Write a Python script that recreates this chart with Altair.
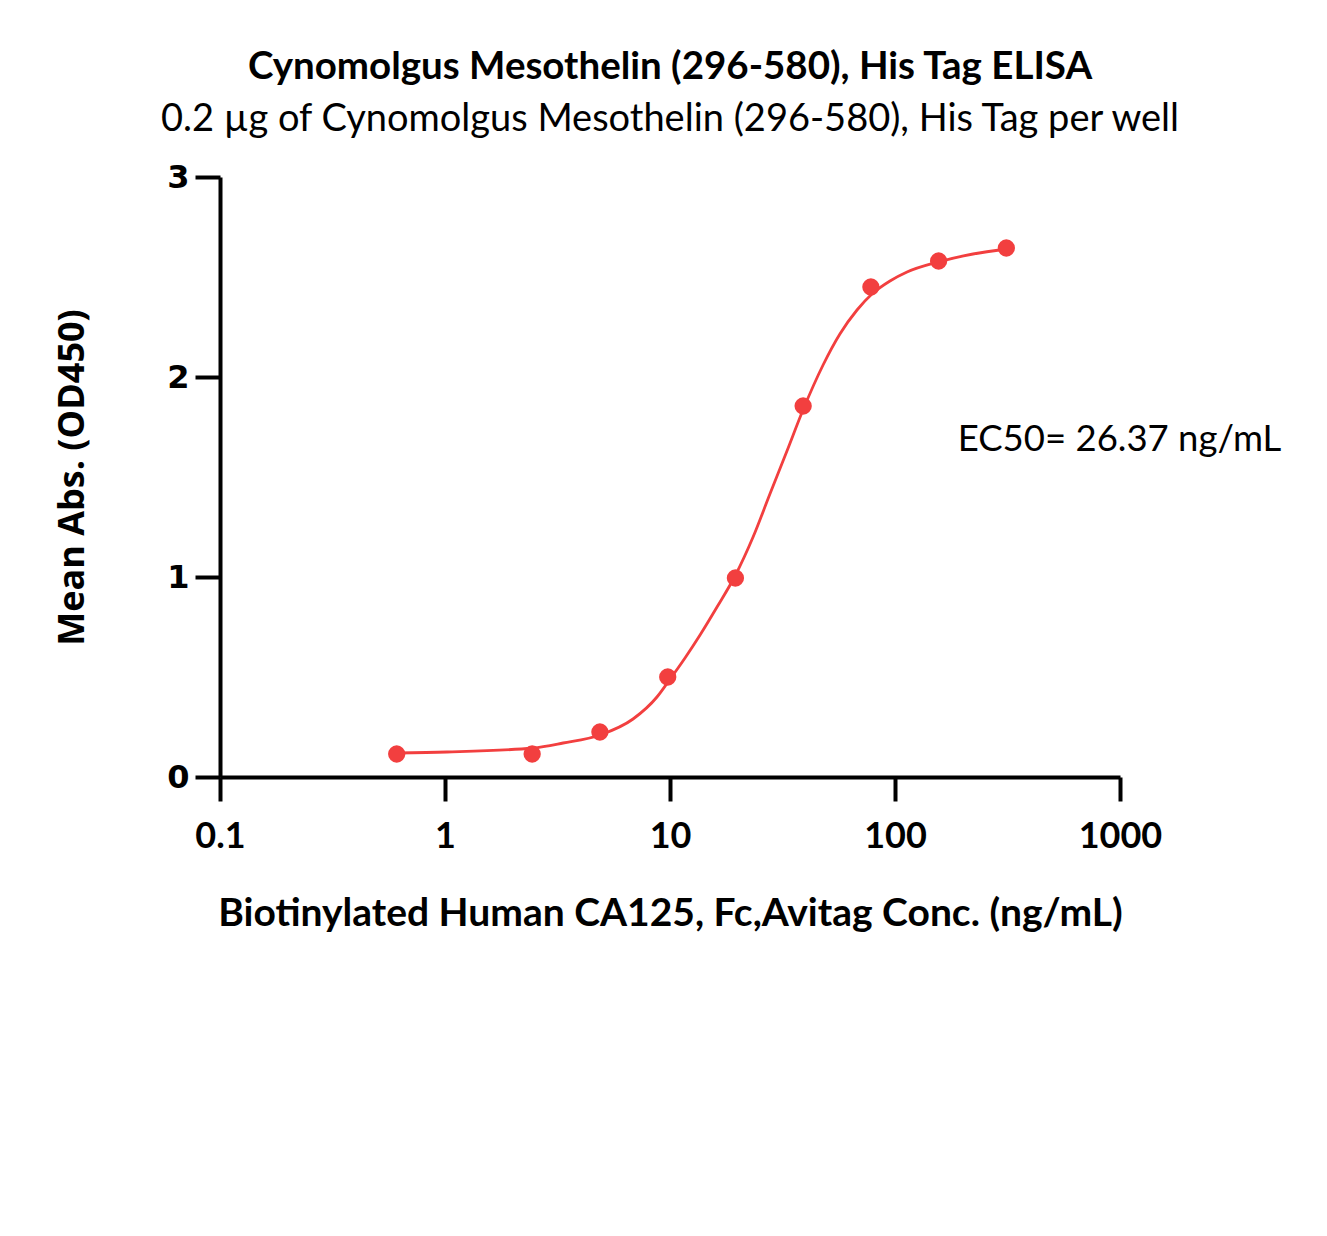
import altair as alt
import pandas as pd

# Measured points
conc = [0.61, 2.44, 4.88, 9.77, 19.53, 39.06, 78.13, 156.25, 312.5]
absorb = [0.115, 0.115, 0.225, 0.50, 0.995, 1.855, 2.45, 2.58, 2.645]

# Fitted curve
curve_x = [0.612, 1.02, 2.46, 3.35, 4.89, 6.85, 8.75, 9.80, 11.66, 13.6, 16.18, 19.45,
           23.4, 27.8, 33.1, 39.0, 47.9, 56.9, 67.8, 79.0, 95.0, 113.1, 155.3, 222.2, 312.5]
curve_y = [0.12, 0.125, 0.145, 0.17, 0.21, 0.29, 0.40, 0.475, 0.595, 0.71, 0.85, 1.005,
           1.20, 1.415, 1.63, 1.835, 2.06, 2.215, 2.335, 2.415, 2.48, 2.525, 2.575, 2.615, 2.64]

x_ticks = [0.1, 1, 10, 100, 1000]
y_ticks = [0, 1, 2, 3]

note_text = ["EC50= 26.37 ng/mL"]
note_x = [190.0]
note_y = [1.685]

RED = "#F23F3F"

pts = pd.DataFrame({"conc": conc, "abs": absorb})
crv = pd.DataFrame({"conc": curve_x, "abs": curve_y})
note = pd.DataFrame({"conc": note_x, "abs": note_y, "t": note_text})

xscale = alt.Scale(type="log", domain=[0.1, 1000])
yscale = alt.Scale(domain=[0, 3], nice=False, zero=False)

xaxis = alt.Axis(
    values=x_ticks, format="~g", grid=False,
    title="Biotinylated Human CA125, Fc,Avitag Conc. (ng/mL)",
    titleFont="Lato", titleFontWeight="bold", titleFontSize=39, titleColor="black",
    titleX=450, titleY=148, titleBaseline="alphabetic", titleAnchor="middle",
    labelFont="Lato", labelFontWeight="bold", labelFontSize=36, labelColor="black",
    labelPadding=18, labelFlush=False,
    domainColor="black", domainWidth=4, tickColor="black", tickWidth=4, tickSize=24,
)
yaxis = alt.Axis(
    values=y_ticks, format="d", grid=False,
    title="Mean Abs. (OD450)",
    titleFont="Open Sans", titleFontWeight="bold", titleFontSize=36, titleColor="black",
    titleX=-148, titleY=300, titleAngle=-90, titleBaseline="middle", titleAnchor="middle",
    labelFont="DejaVu Sans", labelFontWeight="bold", labelFontSize=32, labelColor="black",
    labelPadding=6, labelFlush=False,
    domainColor="black", domainWidth=4, tickColor="black", tickWidth=4, tickSize=25,
)

line = alt.Chart(crv).mark_line(color=RED, strokeWidth=2.8, interpolate="monotone").encode(
    x=alt.X("conc:Q", scale=xscale, axis=xaxis),
    y=alt.Y("abs:Q", scale=yscale, axis=yaxis),
)
points = alt.Chart(pts).mark_circle(color=RED, size=300, opacity=1).encode(
    x=alt.X("conc:Q", scale=xscale),
    y=alt.Y("abs:Q", scale=yscale),
)
label = alt.Chart(note).mark_text(
    align="left", baseline="middle", font="Lato", fontSize=36.5, color="black"
).encode(
    x=alt.X("conc:Q", scale=xscale),
    y=alt.Y("abs:Q", scale=yscale),
    text="t:N",
)

chart = alt.layer(line, points, label).properties(
    width=900, height=600,
    autosize="none",
    background="white",
    padding={"left": 220, "top": 177, "right": 207, "bottom": 459},
    title=alt.TitleParams(
        text="Cynomolgus Mesothelin (296-580), His Tag ELISA",
        subtitle="0.2 µg of Cynomolgus Mesothelin (296-580), His Tag per well",
        font="Lato", fontWeight="bold", fontSize=38.5, color="black",
        subtitleFont="Lato", subtitleFontSize=38, subtitleColor="black",
        anchor="middle", offset=21, subtitlePadding=14,
    ),
).configure_view(strokeWidth=0, stroke=None)

chart.save("out.html", embed_options={"renderer": "svg", "actions": False})
